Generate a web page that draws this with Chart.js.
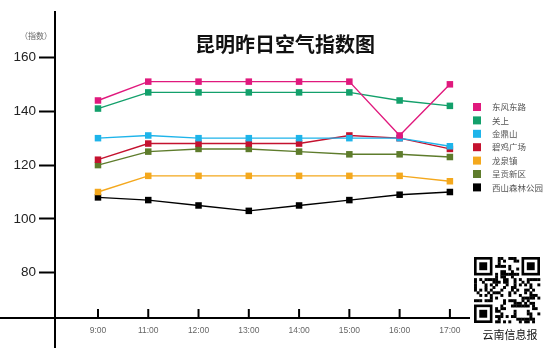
<!DOCTYPE html>
<html>
<head>
<meta charset="utf-8">
<script src="https://cdn.jsdelivr.net/npm/chart.js@4/dist/chart.umd.min.js"></script>
<style>
  html, body { margin: 0; padding: 0; background: #fff; }
  #wrap { width: 550px; height: 348px; position: relative; }
</style>
</head>
<body>
<div id="wrap"><canvas id="c" width="550" height="348"></canvas></div>
<script>
// 监测时间
const hours = ['9:00', '11:00', '12:00', '13:00', '14:00', '15:00', '16:00', '17:00'];

// 各监测站空气指数
const dongfengdonglu = [144, 151, 151, 151, 151, 151, 131, 150];
const guanshang      = [141, 147, 147, 147, 147, 147, 144, 142];
const jindingshan    = [130, 131, 130, 130, 130, 130, 130, 127];
const bijiguangchang = [122, 128, 128, 128, 128, 131, 130, 126];
const longquanzhen   = [110, 116, 116, 116, 116, 116, 116, 114];
const chenggongxinqu = [120, 125, 126, 126, 125, 124, 124, 123];
const xishansenlin   = [108, 107, 105, 103, 105, 107, 109, 110];

// 纵轴刻度
const yTicks = [80, 100, 120, 140, 160];

const stations = [
  { label: '东风东路',     data: dongfengdonglu, color: '#e0197d' },
  { label: '关上',         data: guanshang,      color: '#13a06b' },
  { label: '金鼎山',       data: jindingshan,    color: '#1eb4ea' },
  { label: '碧鸡广场',     data: bijiguangchang, color: '#c4122f' },
  { label: '龙泉镇',       data: longquanzhen,   color: '#f4a81d' },
  { label: '呈贡新区',     data: chenggongxinqu, color: '#5e7c2c' },
  { label: '西山森林公园', data: xishansenlin,   color: '#000000' }
];

const datasets = stations.map(s => ({
  label: s.label,
  data: s.data.map((v, i) => ({ x: i, y: v })),
  borderColor: s.color,
  backgroundColor: s.color,
  borderWidth: 1.4,
  pointStyle: 'rect',
  pointRadius: 4.6,
  pointBorderWidth: 0,
  pointHoverRadius: 4.6,
  tension: 0
}));

// 十字形坐标轴、横轴刻度、标题、图例与二维码
const decor = {
  id: 'decor',
  afterDraw(chart) {
    const ctx = chart.ctx;
    const xs = chart.scales.x;
    const area = chart.chartArea;
    ctx.save();
    ctx.strokeStyle = '#000';
    ctx.lineWidth = 2;
    // 纵轴延伸到底部
    ctx.beginPath();
    ctx.moveTo(area.left, area.top);
    ctx.lineTo(area.left, chart.height);
    ctx.stroke();
    // 横轴延伸到左侧
    ctx.beginPath();
    ctx.moveTo(0, area.bottom);
    ctx.lineTo(area.right, area.bottom);
    ctx.stroke();
    // 横轴刻度线（向上）
    hours.forEach((h, i) => {
      const px = xs.getPixelForValue(i);
      ctx.beginPath();
      ctx.moveTo(px, area.bottom);
      ctx.lineTo(px, area.bottom - 9);
      ctx.stroke();
    });

    // 单位
    ctx.fillStyle = '#666';
    ctx.font = '8px "Noto Sans CJK SC"';
    ctx.textAlign = 'right';
    ctx.textBaseline = 'middle';
    ctx.fillText('（指数）', 52, 36);

    // 标题
    ctx.fillStyle = '#111';
    ctx.font = 'bold 20px "Noto Sans CJK SC"';
    ctx.textAlign = 'left';
    ctx.textBaseline = 'middle';
    ctx.fillText('昆明昨日空气指数图', 195, 44);

    // 图例
    ctx.font = '8.5px "Noto Sans CJK SC"';
    chart.data.datasets.forEach((ds, i) => {
      const y = 107 + i * 13.4;
      ctx.fillStyle = ds.backgroundColor;
      ctx.fillRect(473, y - 4, 8, 8);
      ctx.fillStyle = '#555';
      ctx.fillText(ds.label, 492, y);
    });

    // 二维码
    const qx = 474, qy = 257, cell = 66 / 25;
    ctx.fillStyle = '#000';
    const finder = (cx, cy) => {
      ctx.fillRect(qx + cx * cell, qy + cy * cell, 7 * cell, 7 * cell);
      ctx.fillStyle = '#fff';
      ctx.fillRect(qx + (cx + 1) * cell, qy + (cy + 1) * cell, 5 * cell, 5 * cell);
      ctx.fillStyle = '#000';
      ctx.fillRect(qx + (cx + 2) * cell, qy + (cy + 2) * cell, 3 * cell, 3 * cell);
    };
    finder(0, 0); finder(18, 0); finder(0, 18);
    for (let r = 0; r < 25; r++) {
      for (let c = 0; c < 25; c++) {
        const inFinder = (r < 8 && c < 8) || (r < 8 && c > 16) || (r > 16 && c < 8);
        if (inFinder) continue;
        const bit = ((r * 31 + c * 17) ^ (r * c * 7) ^ (r + 3 * c)) % 5;
        if (bit < 2 || (r === 6 && c % 2 === 0) || (c === 6 && r % 2 === 0)) {
          ctx.fillRect(qx + c * cell, qy + r * cell, cell + 0.3, cell + 0.3);
        }
      }
    }
    ctx.fillStyle = '#111';
    ctx.font = '11px "Noto Sans CJK SC"';
    ctx.textAlign = 'center';
    ctx.fillText('云南信息报', 510, 335);
    ctx.restore();
  }
};

new Chart(document.getElementById('c'), {
  type: 'line',
  data: { datasets },
  options: {
    responsive: false,
    animation: false,
    events: [],
    layout: { padding: { top: 10, right: 80, left: 0, bottom: 0 } },
    plugins: { legend: { display: false }, tooltip: { enabled: false } },
    scales: {
      x: {
        type: 'linear',
        min: -0.855,
        max: 7.4,
        afterBuildTicks: s => { s.ticks = hours.map((h, i) => ({ value: i })); },
        afterFit: s => { s.height = 30; },
        grid: { display: false, drawTicks: false },
        border: { display: false },
        ticks: {
          padding: 8,
          color: '#666',
          font: { size: 8.5, family: '"Liberation Sans", Arial' },
          callback: v => hours[v]
        }
      },
      y: {
        type: 'linear',
        min: 63.2,
        max: 177.2,
        afterBuildTicks: s => { s.ticks = yTicks.map(v => ({ value: v })); },
        afterFit: s => { s.width = 55; },
        grid: {
          drawOnChartArea: false,
          drawTicks: true,
          tickLength: 16,
          tickColor: '#000',
          tickWidth: 2
        },
        border: { display: false },
        ticks: {
          padding: 3,
          color: '#222',
          font: { size: 13.5, family: '"Liberation Sans", Arial' }
        }
      }
    }
  },
  plugins: [decor]
});
</script>
</body>
</html>
